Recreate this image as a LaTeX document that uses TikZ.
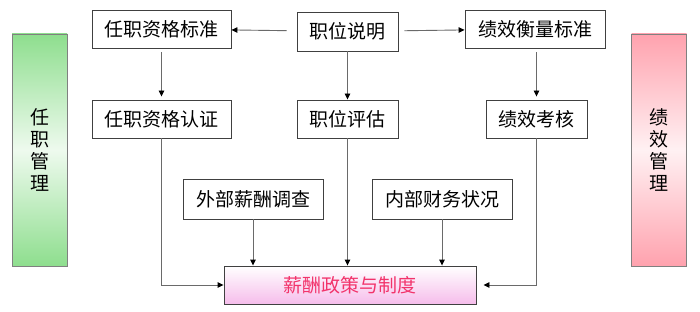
\documentclass[tikz,border=0pt]{standalone}
\usepackage{fontspec}
\setmainfont{Noto Sans CJK SC}
\usetikzlibrary{arrows.meta}
\usepackage{xcolor}
\definecolor{Leaf}{HTML}{8EDE8E}
\definecolor{Rose}{HTML}{FFA2AE}
\definecolor{Wire}{HTML}{6A6A6A}
\definecolor{Blush}{HTML}{F6BDEB}
\definecolor{Crimson}{HTML}{F2336B}

\begin{document}
\begin{tikzpicture}[x=1pt,y=-1pt,font=\fontsize{19}{22}\selectfont,
    box/.style={draw=black!75,line width=0.9pt,fill=white,
                minimum height=38pt,inner sep=0pt},
    bar/.style={draw=black!50,line width=0.8pt,minimum width=55pt,
                minimum height=232pt,align=center,inner sep=0pt},
    link/.style={draw=Wire,line width=0.9pt,
                 -{Triangle[length=6pt,width=5.5pt,color=black]}}]
  \useasboundingbox (0,0) rectangle (700,312);
  % side bars
  \node[bar,top color=Leaf,bottom color=Leaf,middle color=Leaf!15]
    (hrbar) at (39.5,150) {任\\职\\管\\理};
  \node[bar,top color=Rose,bottom color=Rose,middle color=Rose!15]
    (pmbar) at (659,150) {绩\\效\\管\\理};
  % top row
  \node[box,minimum width=139pt] (qualstd) at (161.5,29) {任职资格标准};
  \node[box,minimum width=101pt,minimum height=39pt] (jobdesc) at (347.5,31.5) {职位说明};
  \node[box,minimum width=140pt] (perfstd) at (535,29) {绩效衡量标准};
  % middle row
  \node[box,minimum width=139pt] (qualcert) at (161.5,119) {任职资格认证};
  \node[box,minimum width=101pt] (jobeval) at (347.5,119) {职位评估};
  \node[box,minimum width=101pt] (perfrev) at (536.5,119) {绩效考核};
  % inputs
  \node[box,minimum width=140pt,minimum height=40pt] (survey) at (253,199) {外部薪酬调查};
  \node[box,minimum width=140pt,minimum height=40pt] (finance) at (442,199) {内部财务状况};
  % result
  \node[box,minimum width=252pt,top color=white,bottom color=Blush,
        text=Crimson] (policy) at (350,285) {薪酬政策与制度};
  % connectors
  \draw[link,shorten <=10pt] (jobdesc) -- (qualstd);
  \draw[link,shorten <=6pt] (jobdesc) -- (perfstd);
  \draw[link,shorten <=4pt,shorten >=3pt] (qualstd) -- (qualcert);
  \draw[link] (jobdesc) -- (jobeval);
  \draw[link,shorten <=4pt,shorten >=3pt] (perfstd.south -| perfrev) -- (perfrev);
  \draw[link] (qualcert.south) |- (policy.west);
  \draw[link,shorten >=7pt] (perfrev.south) |- (policy.east);
  \draw[link] (survey.south) -- (survey.south |- policy.north);
  \draw[link] (jobeval.south) -- (jobeval.south |- policy.north);
  \draw[link] (finance.south) -- (finance.south |- policy.north);
\end{tikzpicture}
\end{document}
